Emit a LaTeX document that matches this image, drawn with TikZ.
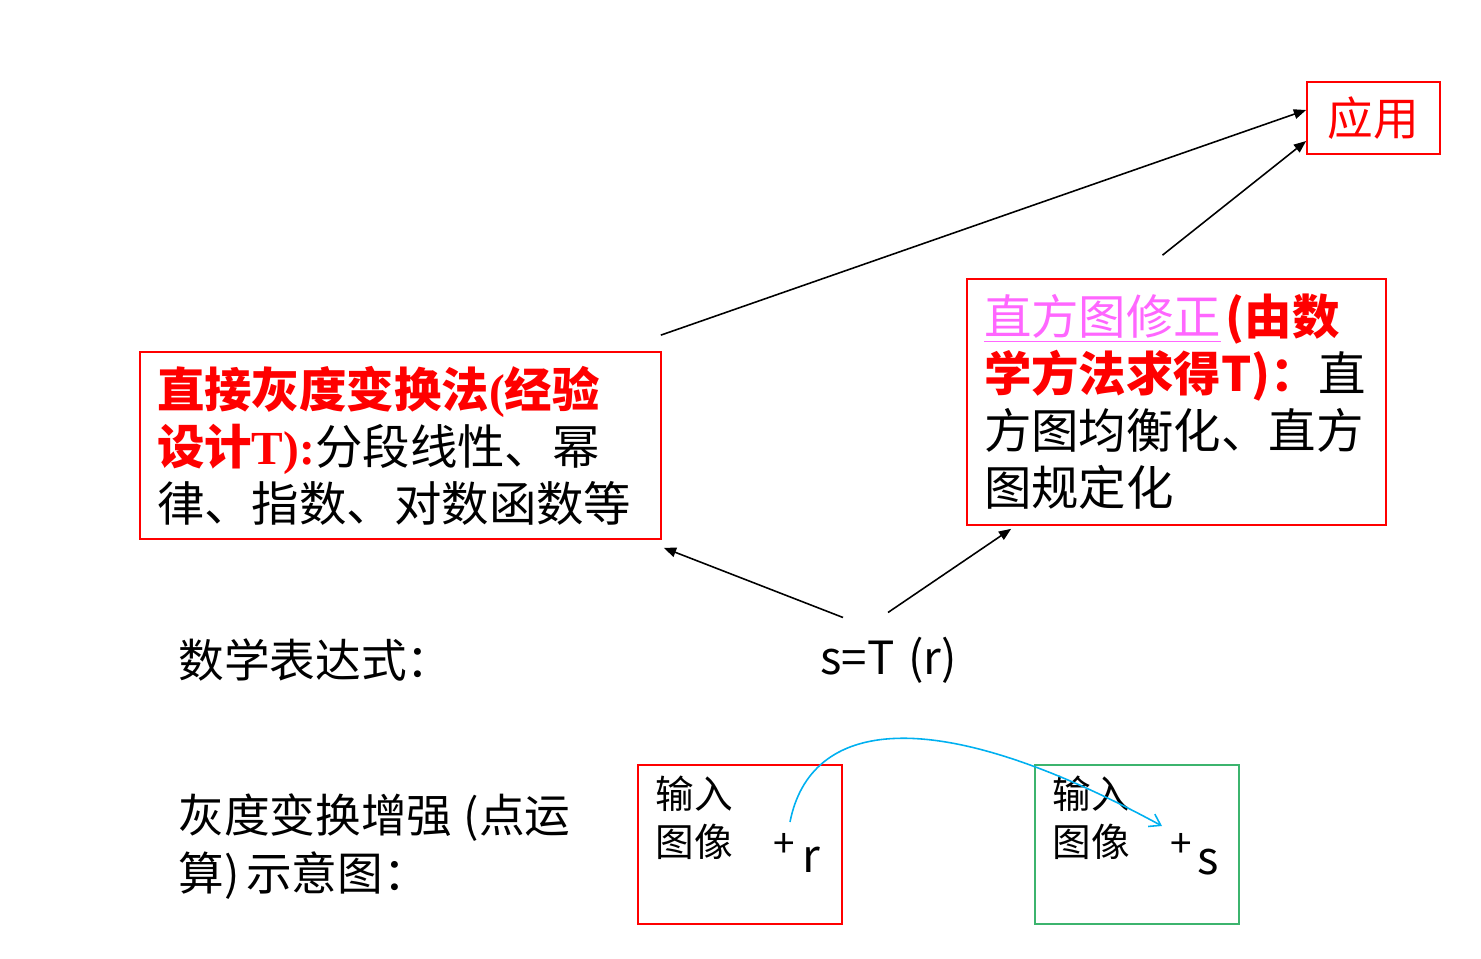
\documentclass[tikz,border=0pt]{standalone}
\usepackage{fontspec}
\setmainfont{Noto Sans CJK SC}
\newfontfamily\timesfont{Liberation Serif}
\usetikzlibrary{positioning, calc, arrows.meta}
\definecolor{pinkhead}{RGB}{255,102,255}
\definecolor{curveblue}{RGB}{0,176,240}
\definecolor{outgreen}{RGB}{60,180,110}

\begin{document}
\begin{tikzpicture}[
    x=0.02cm, y=-0.02cm,
    framebox/.style={draw=red, line width=1pt, inner sep=0pt},
    bigtext/.style={font=\fontsize{27}{32.5}\selectfont, align=left, inner xsep=0.34cm, inner ysep=0pt},
    plain/.style={font=\fontsize{26}{33}\selectfont, inner sep=0pt, align=left, anchor=west},
    small/.style={font=\fontsize{22}{27.3}\selectfont, inner sep=0pt, align=left},
    link/.style={-{Triangle[length=7pt, width=5.5pt]}, line width=0.9pt},
    mapping/.style={-{Straight Barb[length=6pt, width=8pt]}, draw=curveblue, line width=0.9pt}
]
    \useasboundingbox (0,0) rectangle (1481,959);

    % Boxes
    \node[framebox, minimum width=2.66cm, minimum height=1.44cm,
          font=\fontsize{26}{30}\selectfont, text=red] (app) at (1373.5,118) {应用};
    \node[framebox, bigtext, text width=9.74cm, minimum height=3.74cm] (lbox) at (400.5,445.5)
        {{\color{red}\bfseries 直接灰度变换法{\timesfont(}经验}\\
         {\color{red}\bfseries 设计{\timesfont T):}}分段线性、幂\\
         律、指数、对数函数等};
    \node[framebox, bigtext, text width=7.70cm, minimum height=4.92cm] (rbox) at (1176.5,402)
        {{\color{pinkhead}\underline{直方图修正}}{\color{red}\bfseries\hspace{0.1em}(由数}\\
         {\color{red}\bfseries 学方法求得T)：}直\\
         方图均衡化、直方\\
         图规定化};

    % Labels
    \node[plain] (exprlabel) at (178,660) {数学表达式：};
    \node[plain] (expr) at (820,660) {s=T\hspace{0.3em}(r)};
    \node[plain] (sketchlabel) at (178,847) {灰度变换增强\hspace{0.25em}(点运\\算)\hspace{0.15em}示意图：};

    % Input and output images
    \node[framebox, minimum width=4.08cm, minimum height=3.18cm] (inimg) at (740,844.5) {};
    \node[framebox, draw=outgreen, minimum width=4.08cm, minimum height=3.18cm] (outimg) at (1137,844.5) {};
    \node[small, anchor=north west] (intext) at (655,776) {输入\\图像};
    \node[small, anchor=north west] (outtext) at (1052,776) {输入\\图像};
    \node[small] (plusA) at (784,845) {+};
    \node[small] (plusB) at (1181,845) {+};
    \node[small, font=\fontsize{26}{30}\selectfont] (rval) at (811,860) {r};
    \node[small, font=\fontsize{26}{30}\selectfont] (sval) at (1208,862) {s};

    % Arrows
    \draw[link] ($(lbox.north east)+(-1,-16)$) -- ($(app.west)+(0,-8)$);
    \draw[link] ($(rbox.north)+(-14,-23)$) -- ($(app.west)+(0,23)$);
    \draw[link] ($(expr.north west)+(23,-19)$) -- ($(lbox.south east)+(2,8)$);
    \draw[link] ($(expr.north west)+(68,-24)$) -- ($(rbox.south west)+(45,3)$);

    % Point mapping r -> s
    \draw[mapping] ($(plusA)+(6,-23)$) .. controls +(20,-102) and +(-232,-126) .. ($(plusB)+(-19,-19)$);
\end{tikzpicture}
\end{document}
